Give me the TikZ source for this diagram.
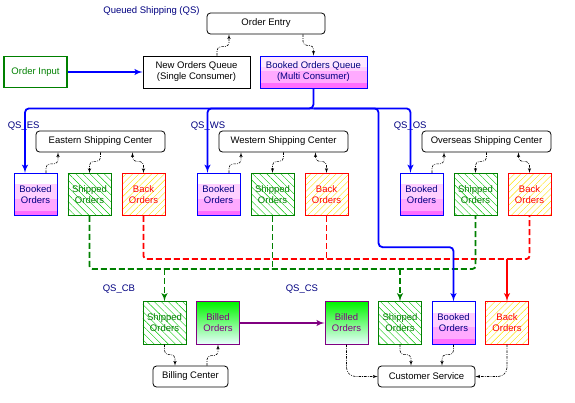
\documentclass[tikz,border=0pt]{standalone}
\usepackage{fontspec}
\setmainfont{Liberation Sans}
\usetikzlibrary{shapes,arrows,patterns.meta}

\definecolor{qsnavy}{RGB}{0,0,128}
\definecolor{qsgreen}{RGB}{0,128,0}
\definecolor{qspurple}{RGB}{128,0,128}
\definecolor{qspink}{RGB}{255,110,255}
\definecolor{qsrose}{RGB}{255,170,255}
\definecolor{qslight}{RGB}{255,208,255}
\definecolor{qspale}{RGB}{255,232,255}
\definecolor{qslime}{RGB}{0,245,0}
\definecolor{qshatch}{RGB}{0,200,0}
\definecolor{qsyellow}{RGB}{255,225,0}

\begin{document}
\begin{tikzpicture}[auto, node distance=1cm, >=latex',
    font=\fontsize{9.5}{11}\selectfont,
    centerbox/.style={draw, rectangle, rounded corners=3.5pt, minimum height=21pt, line width=0.8pt},
    queuebox/.style={draw, rectangle, minimum width=107pt, minimum height=32pt, align=center, inner sep=1pt, line width=0.8pt},
    orderbox/.style={draw, rectangle, minimum width=43pt, minimum height=42.5pt, align=center, inner sep=1pt, line width=0.8pt},
    pinkbands/.style={fill=#1, path picture={
        \fill [qslight] ([yshift=-11pt]path picture bounding box.north west) rectangle (path picture bounding box.south east);
        \fill [qsrose] ([yshift=17pt]path picture bounding box.south west) rectangle (path picture bounding box.south east);
        \fill [qspink] ([yshift=5pt]path picture bounding box.south west) rectangle (path picture bounding box.south east);}},
    bookedbox/.style={orderbox, draw=blue, text=qsnavy, pinkbands=white},
    shippedbox/.style={orderbox, draw=qsgreen, text=qsgreen, pattern={Lines[angle=-45, distance=5pt, line width=0.4pt]}, pattern color=qshatch},
    backbox/.style={orderbox, draw=red, text=red, pattern={Lines[angle=45, distance=4.5pt, line width=0.4pt]}, pattern color=qsyellow},
    billedbox/.style={orderbox, draw=qspurple, text=qspurple, top color=qslime, middle color=qslime!35, bottom color=cyan!8},
    qslabel/.style={text=qsnavy, inner sep=0pt},
    dotline/.style={line width=0.6pt, dash pattern=on 2.5pt off 1.2pt on 0.8pt off 1.2pt, rounded corners=4pt},
    bluebus/.style={blue, line width=1.8pt, rounded corners=4pt},
    shipline/.style={qsgreen, line width=1.8pt, dash pattern=on 6pt off 3pt, rounded corners=3pt},
    backline/.style={red, line width=1.8pt, dash pattern=on 6pt off 3pt, rounded corners=3pt}]

    \useasboundingbox (-266pt,23.5pt) rectangle (309pt,-378.5pt);

    % Order entry and queues
    \node [centerbox, minimum width=118pt] (order_entry) {Order Entry};
    \node [qslabel, left of=order_entry, node distance=114.5pt, yshift=12.5pt] (qs_label) {Queued Shipping (QS)};
    \node [queuebox, below of=order_entry, node distance=48.5pt, xshift=-69.5pt] (new_queue) {New Orders Queue\\(Single Consumer)};
    \node [queuebox, draw=blue, text=qsnavy, pinkbands=qspale, right of=new_queue, node distance=117pt] (booked_queue) {Booked Orders Queue\\(Multi Consumer)};
    \node [draw, rectangle, draw=qsgreen, text=qsgreen, line width=1.6pt, minimum width=63pt, minimum height=31pt, left of=new_queue, node distance=161pt] (order_input) {Order Input};

    % Eastern shipping
    \node [bookedbox, below of=order_input, node distance=122.5pt] (east_booked) {Booked\\Orders};
    \node [shippedbox, right of=east_booked, node distance=54pt] (east_shipped) {Shipped\\Orders};
    \node [backbox, right of=east_shipped, node distance=54pt] (east_back) {Back\\Orders};
    \node [centerbox, minimum width=129pt, above of=east_shipped, node distance=53pt, xshift=11pt] (east_center) {Eastern Shipping Center};
    \node [qslabel, anchor=base west, xshift=-6pt, yshift=2pt] (es_label) at (east_booked.west |- east_center.north) {QS\_ES};

    % Western shipping
    \node [bookedbox, right of=east_back, node distance=75pt] (west_booked) {Booked\\Orders};
    \node [shippedbox, right of=west_booked, node distance=54pt] (west_shipped) {Shipped\\Orders};
    \node [backbox, right of=west_shipped, node distance=54pt] (west_back) {Back\\Orders};
    \node [centerbox, minimum width=129pt, above of=west_shipped, node distance=53pt, xshift=11pt] (west_center) {Western Shipping Center};
    \node [qslabel, anchor=base west, xshift=-6pt, yshift=2pt] (ws_label) at (west_booked.west |- west_center.north) {QS\_WS};

    % Overseas shipping
    \node [bookedbox, right of=west_back, node distance=95pt] (os_booked) {Booked\\Orders};
    \node [shippedbox, right of=os_booked, node distance=54pt] (os_shipped) {Shipped\\Orders};
    \node [backbox, right of=os_shipped, node distance=54pt] (os_back) {Back\\Orders};
    \node [centerbox, minimum width=129pt, above of=os_shipped, node distance=53pt, xshift=11pt] (os_center) {Overseas Shipping Center};
    \node [qslabel, anchor=base west, xshift=-6pt, yshift=2pt] (os_label) at (os_booked.west |- os_center.north) {QS\_OS};

    % Billing
    \node [shippedbox, below of=east_back, node distance=128.5pt, xshift=21pt] (cb_shipped) {Shipped\\Orders};
    \node [billedbox, right of=cb_shipped, node distance=53.5pt] (cb_billed) {Billed\\Orders};
    \node [centerbox, minimum width=75pt, below of=cb_shipped, node distance=53.5pt, xshift=26pt] (billing) {Billing Center};
    \node [qslabel, anchor=base west, xshift=-40pt, yshift=10pt] (cb_label) at (cb_shipped.north west) {QS\_CB};

    % Customer service
    \node [billedbox, right of=cb_billed, node distance=128.5pt] (cs_billed) {Billed\\Orders};
    \node [shippedbox, right of=cs_billed, node distance=53.5pt] (cs_shipped) {Shipped\\Orders};
    \node [bookedbox, right of=cs_shipped, node distance=53.5pt] (cs_booked) {Booked\\Orders};
    \node [backbox, right of=cs_booked, node distance=53.5pt] (cs_back) {Back\\Orders};
    \node [centerbox, minimum width=97pt, below of=cs_shipped, node distance=53.5pt, xshift=26.5pt] (customer_service) {Customer Service};
    \node [qslabel, anchor=base west, xshift=-39pt, yshift=10pt] (cs_label) at (cs_billed.north west) {QS\_CS};

    % Green and red queues
    \coordinate (ship_bus) at ([yshift=-53pt]east_shipped.south);
    \coordinate (back_bus) at ([yshift=-43pt]east_back.south);
    \draw [backline] (east_back.south) -- (back_bus) -| (os_back.south);
    \draw [backline] (west_back.south) -- (west_back.south |- back_bus);
    \draw [red, line width=1.8pt, ->] (back_bus -| cs_back.north) -- (cs_back.north);
    \draw [shipline] (east_shipped.south) -- (ship_bus) -| (os_shipped.south);
    \draw [shipline] (west_shipped.south) -- (west_shipped.south |- ship_bus);
    \draw [shipline, ->] (ship_bus -| cb_shipped.north) -- (cb_shipped.north);
    \draw [shipline, ->] (ship_bus -| cs_shipped.north) -- (cs_shipped.north);

    % Blue queue
    \coordinate (bus) at ([yshift=-20pt]booked_queue.south);
    \draw [bluebus, ->] (order_input) -- (new_queue);
    \draw [bluebus, ->] (booked_queue.south) -- (bus) -| ([xshift=-10.5pt]east_booked.north);
    \draw [bluebus, ->] (bus) -| ([xshift=-11pt]west_booked.north);
    \draw [bluebus, ->] (bus) -| ([xshift=-11pt]os_booked.north);
    \draw [bluebus, ->] (bus) -| ([xshift=-43pt, yshift=-31pt]os_booked.south) -| (cs_booked.north);
    \draw [qspurple, line width=1.8pt, ->] (cb_billed) -- (cs_billed);

    % Dequeue and enqueue lines
    \draw [dotline, ->] ([xshift=20.5pt]new_queue.north) -- ++(0,9pt) -| ([xshift=-37pt]order_entry.south);
    \draw [dotline, ->] ([xshift=37pt]order_entry.south) -- ++(0,-11pt) -| (booked_queue.north);

    \draw [dotline, ->] ([xshift=10.5pt]east_booked.north) -- ++(0,9pt) -| ([xshift=-42.5pt]east_center.south);
    \draw [dotline, ->] (east_center.south) -- ++(0,-9pt) -| (east_shipped.north);
    \draw [dotline, <->] ([xshift=32pt]east_center.south) -- ++(0,-9pt) -| (east_back.north);

    \draw [dotline, ->] ([xshift=10.5pt]west_booked.north) -- ++(0,9pt) -| ([xshift=-42.5pt]west_center.south);
    \draw [dotline, ->] (west_center.south) -- ++(0,-9pt) -| (west_shipped.north);
    \draw [dotline, <->] ([xshift=32pt]west_center.south) -- ++(0,-9pt) -| (west_back.north);

    \draw [dotline, ->] ([xshift=10.5pt]os_booked.north) -- ++(0,9pt) -| ([xshift=-42.5pt]os_center.south);
    \draw [dotline, ->] (os_center.south) -- ++(0,-9pt) -| (os_shipped.north);
    \draw [dotline, <->] ([xshift=32pt]os_center.south) -- ++(0,-9pt) -| (os_back.north);

    \draw [dotline, ->] (cb_shipped.south) -- ++(0,-10pt) -| ([xshift=-15.5pt]billing.north);
    \draw [dotline, ->] ([xshift=16.5pt]billing.north) -- ++(0,10pt) -| (cb_billed.south);

    \draw [dotline, rounded corners=9pt, ->] (cs_billed.south) |- (customer_service.west);
    \draw [dotline, ->] (cs_shipped.south) -- ++(0,-10pt) -| ([xshift=-15.5pt]customer_service.north);
    \draw [dotline, ->] (cs_booked.south) -- ++(0,-10pt) -| ([xshift=15.5pt]customer_service.north);
    \draw [dotline, rounded corners=9pt, ->] (cs_back.south) |- (customer_service.east);

\end{tikzpicture}
\end{document}
